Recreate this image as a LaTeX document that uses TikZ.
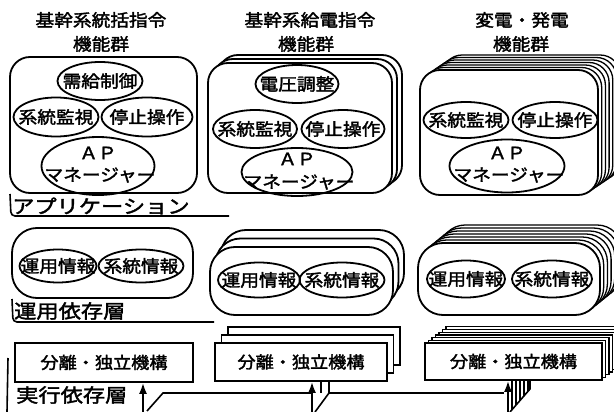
\documentclass[tikz,border=0pt]{standalone}
\usepackage{fontspec}
\usetikzlibrary{shapes.geometric,arrows.meta}
\newfontfamily\jp[FakeStretch=1.1,FakeBold=2]{Noto Sans CJK JP}
\newfontfamily\jpw[FakeStretch=1.17,FakeBold=2]{Noto Sans CJK JP}
\tikzset{
  box/.style={draw, line width=1.8pt, fill=white},
  thinbox/.style={draw, line width=1.3pt, fill=white},
  ell/.style={draw, ellipse, line width=1.8pt, inner sep=0pt},
  etxt/.style={font=\jp\fontsize{17}{19}\selectfont, inner sep=0pt},
  ttl/.style={font=\jp\fontsize{17}{19}\selectfont, inner sep=0pt},
  lay/.style={font=\jpw\fontsize{19}{21}\selectfont, inner sep=0pt, anchor=west},
  rbox/.style={draw, line width=1.8pt, fill=white, inner sep=0pt, font=\jp\fontsize{16.5}{18}\selectfont},
  wire/.style={line width=1.6pt},
  arr/.style={-{Latex[length=11pt,width=8pt]}, line width=1.8pt},
}
\begin{document}
\begin{tikzpicture}[x=1pt,y=-1pt]
\useasboundingbox (0,0) rectangle (614,412);
\clip (0,0) rectangle (614,412);

% titles
\node[ttl] (t1a) at (101,20) {基幹系統括指令};
\node[ttl] (t1b) at (101,44) {機能群};
\node[ttl] (t2a) at (310,20) {基幹系給電指令};
\node[ttl] (t2b) at (306,44) {機能群};
\node[ttl] (t3a) at (522,20) {変電・発電};
\node[ttl] (t3b) at (521,44) {機能群};

% ---------- row 1 : application ----------
\draw[box, rounded corners=20pt] (10,57) rectangle (197,193);
\foreach \i in {2,1}
  \draw[box, rounded corners=20pt] ({208+5*\i},{63-4*\i}) rectangle ({392+5*\i},{193-4*\i});
\draw[box, rounded corners=20pt] (208,63) rectangle (392,193);
\foreach \i in {6,...,1}
  \draw[thinbox, rounded corners=20pt] ({420+3.7*\i},{70-2.5*\i}) rectangle ({598+3.7*\i},{195-2.5*\i});
\draw[box, rounded corners=20pt] (420,70) rectangle (598,195);

% column 1 ellipses
\node[ell, minimum width=85pt, minimum height=38pt] (e11) at (100,81) {};
\node[ell, minimum width=85pt, minimum height=39pt] (e12) at (56,117) {};
\node[ell, minimum width=91pt, minimum height=39pt] (e13) at (147,117) {};
\node[ell, minimum width=113pt, minimum height=58pt] (e14) at (98,166) {};
\node[etxt] at (e11) {需給制御};
\node[etxt] at (e12) {系統監視};
\node[etxt] at (e13) {停止操作};
\node[etxt] (e14a) at (98,153) {ＡＰ};
\node[etxt] (e14b) at (100,175) {マネージャー};

% column 2 ellipses
\node[ell, minimum width=83pt, minimum height=38pt] (e21) at (297,84) {};
\node[ell, minimum width=84pt, minimum height=38pt] (e22) at (255,129) {};
\node[ell, minimum width=83pt, minimum height=38pt] (e23) at (343,129) {};
\node[ell, minimum width=111pt, minimum height=48pt] (e24) at (297,172) {};
\node[etxt] at (e21) {電圧調整};
\node[etxt] at (e22) {系統監視};
\node[etxt] at (e23) {停止操作};
\node[etxt] (e24a) at (297,159) {ＡＰ};
\node[etxt] (e24b) at (299,182) {マネージャー};

% column 3 ellipses
\node[ell, minimum width=85pt, minimum height=36pt] (e32) at (466,120) {};
\node[ell, minimum width=85pt, minimum height=36pt] (e33) at (555,120) {};
\node[ell, minimum width=115pt, minimum height=53pt] (e34) at (507,166) {};
\node[etxt] at (e32) {系統監視};
\node[etxt] at (e33) {停止操作};
\node[etxt] (e34a) at (507,153) {ＡＰ};
\node[etxt] (e34b) at (509,175) {マネージャー};

% ---------- row 2 : operation ----------
\draw[box, rounded corners=25pt] (12,228) rectangle (193,298);
\foreach \i in {2,1}
  \draw[box, rounded corners=25pt] ({210+5.5*\i},{247-8.5*\i}) rectangle ({393+5.5*\i},{315-8.5*\i});
\draw[box, rounded corners=25pt] (210,247) rectangle (393,315);
\foreach \i in {6,...,1}
  \draw[thinbox, rounded corners=25pt] ({418+3.7*\i},{243-3*\i}) rectangle ({600+3.7*\i},{315-3*\i});
\draw[box, rounded corners=25pt] (418,243) rectangle (600,315);

\node[ell, minimum width=77pt, minimum height=33pt] (f11) at (58,266) {};
\node[ell, minimum width=85pt, minimum height=33pt] (f12) at (141,266) {};
\node[ell, minimum width=82pt, minimum height=35pt] (f21) at (259,280) {};
\node[ell, minimum width=85pt, minimum height=35pt] (f22) at (342,280) {};
\node[ell, minimum width=78pt, minimum height=37pt] (f31) at (466,279) {};
\node[ell, minimum width=80pt, minimum height=37pt] (f32) at (552,279) {};
\node[etxt] at (f11) {運用情報};
\node[etxt] at (f12) {系統情報};
\node[etxt] at (f21) {運用情報};
\node[etxt] at (f22) {系統情報};
\node[etxt] at (f31) {運用情報};
\node[etxt] at (f32) {系統情報};

% ---------- row 3 : execution ----------
\node[rbox, minimum width=178pt, minimum height=39pt] (r31) at (104,362.5) {分離・独立機構};
\foreach \i in {2,1}
  \draw[box] ({215+6.5*\i},{343-8*\i}) rectangle ({387+6.5*\i},{381-8*\i});
\node[rbox, minimum width=172pt, minimum height=38pt] (r32) at (301,362) {分離・独立機構};
\foreach \i in {6,...,1}
  \draw[thinbox] ({425+3.5*\i},{343-2.7*\i}) rectangle ({602+3.5*\i},{380-2.7*\i});
\node[rbox, minimum width=177pt, minimum height=37pt] (r33) at (513.5,361.5) {分離・独立機構};

% layer labels and brackets
\node[lay] (l1) at (12,206) {アプリケーション};
\node[lay] (l2) at (14,311) {運用依存層};
\node[lay] (l3) at (16,395) {実行依存層};
\draw[wire, rounded corners=4pt] (10,194) -- (11,216) -- (229,216);
\draw[wire, rounded corners=4pt] (12,299) -- (13,322) -- (214,322);
\draw[wire] (8,358) -- (7,412);

% connectors
\coordinate (p1) at (143,412);
\coordinate (p1d) at (147,411);
\coordinate (p1e) at (163,393);
\coordinate (p2) at (312,412);
\coordinate (q2a) at (321,393);
\coordinate (q2b) at (329,393);
\coordinate (q2d) at (315,412);
\coordinate (p3) at (508,412);
\coordinate (q3e) at (504,393);
\coordinate (q3t) at (530,389);
\coordinate (q3d) at (510,412);

\draw[arr] (p1) -- (p1 |- r31.south);
\draw[wire] (p1d) -- (p1e) -- (p2 |- p1e);
\draw[arr] (p2) -- (p2 |- r32.south);
\draw[wire] (q2a |- r32.south) -- (q2a);
\draw[wire] (q2b |- r32.south) -- (q2b) -- (q2d);
\draw[wire] (q2b) -- (q3e);
\draw[arr] (p3) -- (p3 |- r33.south);
\foreach \x in {512,516,520,524,528}
  \draw[line width=1.2pt] (\x,380) -- (\x,{389+23*(530-\x)/20});
\draw[wire] (q3t |- r33.south) -- (q3t) -- (q3d);
\end{tikzpicture}
\end{document}
